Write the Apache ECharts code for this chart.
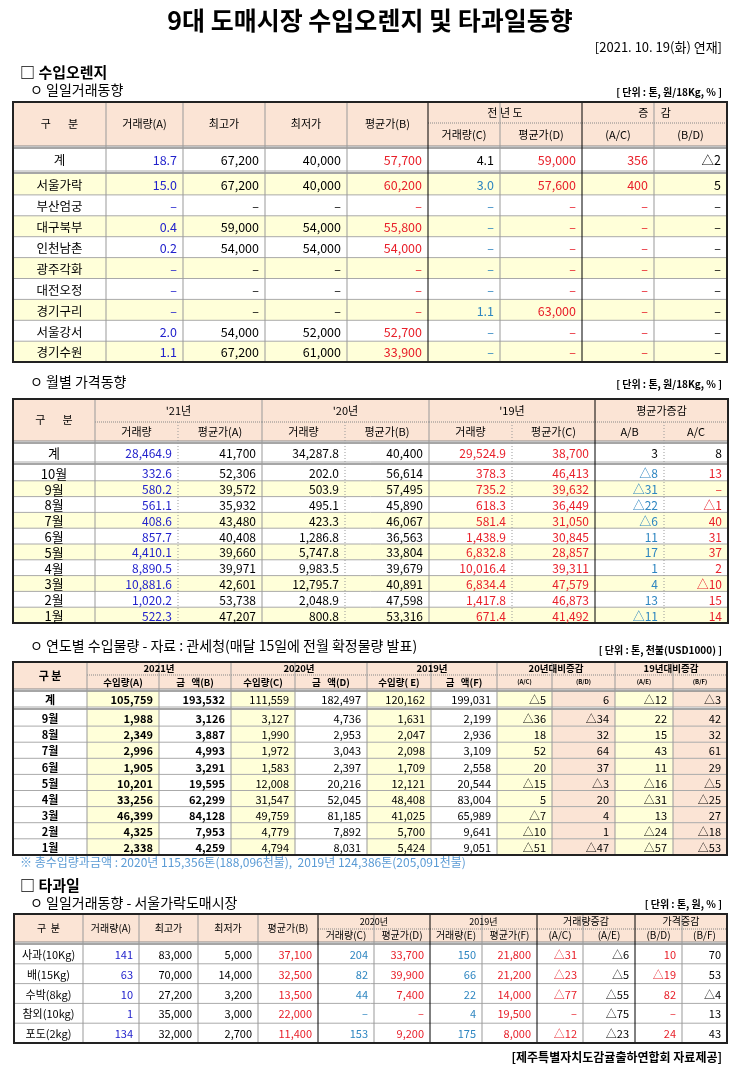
<!DOCTYPE html>
<html><head><meta charset="utf-8">
<script src="https://cdn.jsdelivr.net/npm/echarts@6/dist/echarts.min.js"></script>
<style>html,body{margin:0;background:#fff}#c{width:740px;height:1071px}</style>
</head><body><div id="c"></div>
<script>
// ---- 수입오렌지 일일거래동향
const regions1 = ['계','서울가락','부산엄궁','대구북부','인천남촌','광주각화','대전오정','경기구리','서울강서','경기수원']
const vol1A = ['18.7','15.0','–','0.4','0.2','–','–','–','2.0','1.1']
const high1 = ['67,200','67,200','–','59,000','54,000','–','–','–','54,000','67,200']
const low1 = ['40,000','40,000','–','54,000','54,000','–','–','–','52,000','61,000']
const avg1B = ['57,700','60,200','–','55,800','54,000','–','–','–','52,700','33,900']
const vol1C = ['4.1','3.0','–','–','–','–','–','1.1','–','–']
const avg1D = ['59,000','57,600','–','–','–','–','–','63,000','–','–']
const rat1AC = ['356','400','–','–','–','–','–','–','–','–']
const rat1BD = ['△2','5','–','–','–','–','–','–','–','–']
// ---- 월별 가격동향
const months2 = ['계','10월','9월','8월','7월','6월','5월','4월','3월','2월','1월']
const v21 = ['28,464.9','332.6','580.2','561.1','408.6','857.7','4,410.1','8,890.5','10,881.6','1,020.2','522.3']
const p21 = ['41,700','52,306','39,572','35,932','43,480','40,408','39,660','39,971','42,601','53,738','47,207']
const v20 = ['34,287.8','202.0','503.9','495.1','423.3','1,286.8','5,747.8','9,983.5','12,795.7','2,048.9','800.8']
const p20 = ['40,400','56,614','57,495','45,890','46,067','36,563','33,804','39,679','40,891','47,598','53,316']
const v19 = ['29,524.9','378.3','735.2','618.3','581.4','1,438.9','6,832.8','10,016.4','6,834.4','1,417.8','671.4']
const p19 = ['38,700','46,413','39,632','36,449','31,050','30,845','28,857','39,311','47,579','46,873','41,492']
const rat2AB = ['3','△8','△31','△22','△6','11','17','1','4','13','△11']
const rat2AC = ['8','13','–','△1','40','31','37','2','△10','15','14']
// ---- 연도별 수입물량
const months3 = ['계','9월','8월','7월','6월','5월','4월','3월','2월','1월']
const qA = ['105,759','1,988','2,349','2,996','1,905','10,201','33,256','46,399','4,325','2,338']
const amtB = ['193,532','3,126','3,887','4,993','3,291','19,595','62,299','84,128','7,953','4,259']
const qC = ['111,559','3,127','1,990','1,972','1,583','12,008','31,547','49,759','4,779','4,794']
const amtD = ['182,497','4,736','2,953','3,043','2,397','20,216','52,045','81,185','7,892','8,031']
const qE = ['120,162','1,631','2,047','2,098','1,709','12,121','48,408','41,025','5,700','5,424']
const amtF = ['199,031','2,199','2,936','3,109','2,558','20,544','83,004','65,989','9,641','9,051']
const rat3AC = ['△5','△36','18','52','20','△15','5','△7','△10','△51']
const rat3BD = ['6','△34','32','64','37','△3','20','4','1','△47']
const rat3AE = ['△12','22','15','43','11','△16','△31','13','△24','△57']
const rat3BF = ['△3','42','32','61','29','△5','△25','27','△18','△53']
// ---- 타과일
const fruits = ['사과(10Kg)','배(15Kg)','수박(8kg)','참외(10kg)','포도(2kg)']
const vA4 = ['141','63','10','1','134']
const hi4 = ['83,000','70,000','27,200','35,000','32,000']
const lo4 = ['5,000','14,000','3,200','3,000','2,700']
const pB4 = ['37,100','32,500','13,500','22,000','11,400']
const vC4 = ['204','82','44','–','153']
const pD4 = ['33,700','39,900','7,400','–','9,200']
const vE4 = ['150','66','22','4','175']
const pF4 = ['21,800','21,200','14,000','19,500','8,000']
const rAC4 = ['△31','△23','△77','–','△12']
const rAE4 = ['△6','△5','△55','△75','△23']
const rBD4 = ['10','△19','82','–','24']
const rBF4 = ['70','53','△4','13','43']

const PEACH = '#FBE4D5', YEL = '#FFFFD9', BLUE = '#2222CC', RED = '#E8202A', TEAL = '#2E86C1'
const F = '"Noto Sans CJK KR", sans-serif'
const els = []

function txt(x, y, s, o) {
    o = o || {}
    els.push({type: 'text', z: 5, style: {x, y, text: s, fill: o.color || '#000',
        font: (o.bold ? 'bold ' : '') + (o.size || 12) + 'px ' + (o.family || F),
        align: o.align || 'left', verticalAlign: 'middle'}})
}
function rect(x, y, w, h, fill) {
    els.push({type: 'rect', z: 1, shape: {x, y, width: w, height: h}, style: {fill}})
}
function line(x1, y1, x2, y2, o) {
    o = o || {}
    els.push({type: 'line', z: 3, shape: {x1, y1, x2, y2},
        style: {stroke: o.color || '#888', lineWidth: o.w || 1, lineDash: o.dash || null}})
}

function table(t) {
    const c = t.cols, L = c[0], R = c[c.length - 1]
    rect(L, t.top, R - L, t.hbot - t.top, PEACH)
    t.heads.forEach(h => {
        const x0 = c[h[0]], x1 = c[h[1]], y0 = h[2] ? t.hsplit : t.top, y1 = h[3] ? t.hbot : t.hsplit
        txt((x0 + x1) / 2, (y0 + y1) / 2, h[4], {align: 'center', size: h[5] || t.hsize || 12, bold: t.hbold})
        if (h[3] === 0) line(x0, t.hsplit, x1, t.hsplit, {dash: [1, 1]})
    })
    const n = t.body[0].length
    let y = t.hbot + 2
    for (let r = 0; r < n; r++) {
        const sum = r === 0 && !t.noSum
        const h = sum ? t.sumH : t.rowH
        for (let ci = 0; ci < c.length - 1; ci++) {
            const f = t.fills(r, ci)
            if (f) rect(c[ci], y, c[ci + 1] - c[ci], h, f)
            const v = t.body[ci][r]
            const col = (t.cellColor && t.cellColor(r, ci)) || t.colors[ci]
            if (ci === 0) txt((c[0] + c[1]) / 2, y + h / 2 + 1, v, {align: 'center', size: t.firstSize || t.size, bold: t.firstBold})
            else txt(c[ci + 1] - 6, y + h / 2 + 1, v, {align: 'right', size: t.size, color: col, bold: t.bold && t.bold(ci)})
        }
        line(L, y + h, R, y + h, {color: '#aaa'})
        if (sum) { line(L, y + h + 2, R, y + h + 2, {color: '#888', w: 1.5}); y += 3 }
        y += h
    }
    line(L, t.hbot, R, t.hbot, {color: '#888'})
    line(L, t.hbot + 2, R, t.hbot + 2, {color: '#888', w: 1.5})
    c.forEach((x, i) => {
        const dot = t.dotted && t.dotted.includes(i)
        line(x, dot ? t.hsplit : t.top, x, y, {color: t.heavy && t.heavy.includes(i) ? '#000' : '#999', dash: dot ? [1, 2] : null})
    })
    els.push({type: 'rect', z: 4, shape: {x: L, y: t.top, width: R - L, height: y - t.top},
        style: {fill: 'none', stroke: '#222', lineWidth: 2}})
}

// headings
txt(370, 20, '9대 도매시장 수입오렌지 및 타과일동향', {align: 'center', size: 25, bold: true})
txt(722, 47, '[2021. 10. 19(화) 연재]', {align: 'right', size: 13})
txt(20, 72, '□ 수입오렌지', {size: 15, bold: true})
txt(30, 90, 'ㅇ 일일거래동향', {size: 14})
txt(722, 92, '[ 단위 : 톤, 원/18Kg, % ]', {align: 'right', size: 10, bold: true})

table({
    cols: [13, 106, 183, 265, 347, 428, 500, 582, 654, 727],
    top: 102, hsplit: 123, hbot: 146, sumH: 23, rowH: 20.9, size: 12.5, hsize: 11,
    heads: [[0, 1, 0, 1, '구       분'], [1, 2, 0, 1, '거래량(A)'], [2, 3, 0, 1, '최고가'], [3, 4, 0, 1, '최저가'],
        [4, 5, 0, 1, '평균가(B)'], [5, 7, 0, 0, '전 년 도'], [5, 6, 1, 1, '거래량(C)'], [6, 7, 1, 1, '평균가(D)'],
        [7, 9, 0, 0, '증     감'], [7, 8, 1, 1, '(A/C)'], [8, 9, 1, 1, '(B/D)']],
    body: [regions1, vol1A, high1, low1, avg1B, vol1C, avg1D, rat1AC, rat1BD],
    colors: ['#000', BLUE, '#000', '#000', RED, TEAL, RED, RED, '#000'],
    cellColor: (r, ci) => r === 0 && ci === 5 ? '#000' : null,
    fills: (r, ci) => r % 2 === 1 ? YEL : null,
    heavy: [5, 7]
})

txt(30, 382, 'ㅇ 월별 가격동향', {size: 14})
txt(722, 384, '[ 단위 : 톤, 원/18Kg, % ]', {align: 'right', size: 10, bold: true})
table({
    cols: [13, 95, 178, 262, 345, 429, 512, 595, 664, 728],
    top: 399, hsplit: 422, hbot: 441, sumH: 19, rowH: 15.8, size: 12, hsize: 11, firstSize: 13,
    heads: [[0, 1, 0, 1, '구       분'], [1, 3, 0, 0, "'21년"], [1, 2, 1, 1, '거래량'], [2, 3, 1, 1, '평균가(A)'],
        [3, 5, 0, 0, "'20년"], [3, 4, 1, 1, '거래량'], [4, 5, 1, 1, '평균가(B)'],
        [5, 7, 0, 0, "'19년"], [5, 6, 1, 1, '거래량'], [6, 7, 1, 1, '평균가(C)'],
        [7, 9, 0, 0, '평균가증감'], [7, 8, 1, 1, 'A/B'], [8, 9, 1, 1, 'A/C']],
    body: [months2, v21, p21, v20, p20, v19, p19, rat2AB, rat2AC],
    colors: ['#000', BLUE, '#000', '#000', '#000', RED, RED, TEAL, RED],
    cellColor: (r, ci) => r === 0 && ci >= 7 ? '#000' : null,
    fills: (r, ci) => r > 0 && r % 2 === 0 ? YEL : null,
    dotted: [2, 4, 6, 8], heavy: [7]
})

txt(30, 646, 'ㅇ 연도별 수입물량 - 자료 : 관세청(매달 15일에 전월 확정물량 발표)', {size: 14})
txt(722, 650, '[ 단위 : 톤, 천불(USD1000) ]', {align: 'right', size: 10, bold: true})
table({
    cols: [13, 87, 159, 231, 295, 367, 431, 497, 552, 615, 673, 727],
    top: 662, hsplit: 675, hbot: 689, sumH: 16, rowH: 16.1, size: 11, hsize: 9.5, hbold: true,
    firstBold: true, bold: ci => ci <= 2,
    heads: [[0, 1, 0, 1, '구 분', 11], [1, 3, 0, 0, '2021년'], [1, 2, 1, 1, '수입량(A)'], [2, 3, 1, 1, '금   액(B)'],
        [3, 5, 0, 0, '2020년'], [3, 4, 1, 1, '수입량(C)'], [4, 5, 1, 1, '금   액(D)'],
        [5, 7, 0, 0, '2019년'], [5, 6, 1, 1, '수입량( E)'], [6, 7, 1, 1, '금   액(F)'],
        [7, 9, 0, 0, '20년대비증감'], [7, 8, 1, 1, '(A/C)', 6], [8, 9, 1, 1, '(B/D)', 6],
        [9, 11, 0, 0, '19년대비증감'], [9, 10, 1, 1, '(A/E)', 6], [10, 11, 1, 1, '(B/F)', 6]],
    body: [months3, qA, amtB, qC, amtD, qE, amtF, rat3AC, rat3BD, rat3AE, rat3BF],
    colors: Array(11).fill('#000'),
    fills: (r, ci) => [1, 3, 5, 7, 9].includes(ci) ? YEL : ([8, 10].includes(ci) ? PEACH : null)
})
txt(20, 862, '※ 총수입량과금액 : 2020년 115,356톤(188,096천불),  2019년 124,386톤(205,091천불)', {size: 12, color: '#5B9BD5'})

txt(20, 885, '□ 타과일', {size: 15, bold: true})
txt(30, 903, 'ㅇ 일일거래동향 - 서울가락도매시장', {size: 14})
txt(722, 904, '[ 단위 : 톤, 원, % ]', {align: 'right', size: 10, bold: true})
table({
    cols: [14, 83, 139, 198, 258, 318, 374, 430, 482, 537, 583, 635, 682, 727],
    top: 914, hsplit: 929, hbot: 942, rowH: 19.8, size: 11, hsize: 10, noSum: true,
    heads: [[0, 1, 0, 1, '구  분'], [1, 2, 0, 1, '거래량(A)'], [2, 3, 0, 1, '최고가'], [3, 4, 0, 1, '최저가'],
        [4, 5, 0, 1, '평균가(B)'], [5, 7, 0, 0, '2020년', 9], [5, 6, 1, 1, '거래량(C)'], [6, 7, 1, 1, '평균가(D)'],
        [7, 9, 0, 0, '2019년', 9], [7, 8, 1, 1, '거래량(E)'], [8, 9, 1, 1, '평균가(F)'],
        [9, 11, 0, 0, '거래량증감'], [9, 10, 1, 1, '(A/C)'], [10, 11, 1, 1, '(A/E)'],
        [11, 13, 0, 0, '가격증감'], [11, 12, 1, 1, '(B/D)'], [12, 13, 1, 1, '(B/F)']],
    body: [fruits, vA4, hi4, lo4, pB4, vC4, pD4, vE4, pF4, rAC4, rAE4, rBD4, rBF4],
    colors: ['#000', BLUE, '#000', '#000', RED, TEAL, RED, TEAL, RED, RED, '#000', RED, '#000'],
    fills: () => null,
    heavy: [5, 7, 9, 11]
})
txt(722, 1057, '[제주특별자치도감귤출하연합회 자료제공]', {align: 'right', size: 12, bold: true})

const chart = echarts.init(document.getElementById('c'))
chart.setOption({animation: false, graphic: {elements: els}})
</script></body></html>
